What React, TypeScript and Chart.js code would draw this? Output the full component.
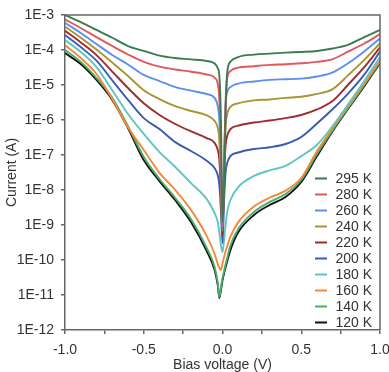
import React, { useEffect, useRef } from 'react';
import { Chart, registerables } from 'chart.js';

Chart.register(...registerables);

// Bias voltage (V) sample points
const voltages = [-1, -0.9, -0.8, -0.7, -0.6, -0.5, -0.4, -0.3, -0.2, -0.1, -0.05, -0.03, -0.02, -0.01, 0, 0.01, 0.02, 0.03, 0.05, 0.1, 0.2, 0.3, 0.4, 0.5, 0.6, 0.7, 0.8, 0.9, 1.0];

const temperatureLabels = ['295 K', '280 K', '260 K', '240 K', '220 K', '200 K', '180 K', '160 K', '140 K', '120 K'];
const seriesColors = ['#3d7a50', '#e0595b', '#5b8ff0', '#a99532', '#9e2b30', '#3a5cb0', '#5ec6c2', '#f4893a', '#4bab6b', '#111111'];

// Current (A)
const i295 = [1.0e-3, 6.3e-4, 3.75e-4, 2.24e-4, 1.3e-4, 9.4e-5, 6.9e-5, 5.9e-5, 5.4e-5, 4.86e-5, 4.1e-5, 3.0e-5, 1.79e-5, 1.0e-6, 1.19e-9, 1.0e-8, 1.95e-6, 2.3e-5, 4.6e-5, 6.3e-5, 7.4e-5, 7.9e-5, 8.4e-5, 8.8e-5, 9.4e-5, 1.1e-4, 1.43e-4, 2.34e-4, 3.75e-4];
const i280 = [7.5e-4, 4.25e-4, 2.34e-4, 1.3e-4, 7.45e-5, 4.6e-5, 3.35e-5, 2.77e-5, 2.4e-5, 2.0e-5, 1.63e-5, 1.06e-5, 3.75e-6, 1.39e-7, 1.0e-9, 3.75e-8, 3.75e-6, 1.58e-5, 2.5e-5, 3.13e-5, 3.44e-5, 3.75e-5, 3.9e-5, 4.17e-5, 4.58e-5, 5.5e-5, 9.1e-5, 1.53e-4, 2.84e-4];
const i260 = [6.0e-4, 3.05e-4, 1.48e-4, 7.2e-5, 3.85e-5, 1.94e-5, 1.3e-5, 8.7e-6, 6.9e-6, 5.53e-6, 4.3e-6, 2.48e-6, 9.9e-7, 5.2e-8, 8.2e-10, 7.2e-8, 2.7e-6, 6.3e-6, 8.7e-6, 1.1e-5, 1.26e-5, 1.4e-5, 1.46e-5, 1.52e-5, 1.75e-5, 2.3e-5, 4.26e-5, 9.1e-5, 2.14e-4];
const i240 = [4.65e-4, 2.24e-4, 1.03e-4, 4.37e-5, 1.81e-5, 7.1e-6, 3.97e-6, 2.48e-6, 1.81e-6, 1.35e-6, 9.4e-7, 5.9e-7, 2.66e-7, 1.93e-8, 6.7e-10, 7.2e-8, 7.2e-7, 1.48e-6, 2.38e-6, 3.0e-6, 3.65e-6, 3.87e-6, 4.29e-6, 4.6e-6, 5.55e-6, 7.65e-6, 1.94e-5, 5.2e-5, 1.56e-4];
const i220 = [3.55e-4, 1.65e-4, 7.15e-5, 2.42e-5, 8.2e-6, 3.0e-6, 1.39e-6, 7.7e-7, 4.74e-7, 3.05e-7, 2.2e-7, 1.39e-7, 7.2e-8, 7.2e-9, 5.2e-10, 2.63e-8, 1.93e-7, 3.54e-7, 5.5e-7, 6.9e-7, 8.45e-7, 9.65e-7, 1.13e-6, 1.39e-6, 2.0e-6, 3.55e-6, 1.05e-5, 3.24e-5, 1.19e-4];
const i200 = [2.68e-4, 1.21e-4, 4.94e-5, 1.36e-5, 3.76e-6, 1.13e-6, 5.5e-7, 2.33e-7, 1.3e-7, 6.8e-8, 4.2e-8, 2.63e-8, 1.38e-8, 2.7e-9, 3.0e-10, 5.1e-9, 3.3e-8, 5.9e-8, 9.3e-8, 1.18e-7, 1.48e-7, 1.67e-7, 2.06e-7, 3.27e-7, 7.9e-7, 2.06e-6, 5.9e-6, 1.98e-5, 9.0e-5];
const i180 = [1.93e-4, 8.8e-5, 3.24e-5, 7.1e-6, 1.48e-6, 4.0e-7, 1.21e-7, 4.55e-8, 1.58e-8, 5.5e-9, 2.2e-9, 1.21e-9, 6.2e-10, 2.67e-10, 1.68e-10, 3.75e-10, 1.0e-9, 2.36e-9, 5.1e-9, 1.21e-8, 2.52e-8, 3.65e-8, 4.9e-8, 9.3e-8, 1.97e-7, 6.8e-7, 2.9e-6, 1.3e-5, 6.3e-5];
const i160 = [1.39e-4, 5.9e-5, 2.06e-5, 3.97e-6, 6.25e-7, 1.39e-7, 3.1e-8, 1.0e-8, 2.7e-9, 4.8e-10, 1.48e-10, 7.6e-11, 5.9e-11, 5.2e-11, 8.0e-11, 1.21e-10, 1.8e-10, 2.5e-10, 4.6e-10, 1.21e-9, 3.4e-9, 6.1e-9, 9.6e-9, 2.2e-8, 1.3e-7, 5.9e-7, 2.59e-6, 1.1e-5, 5.0e-5];
const i140 = [1.0e-4, 4.58e-5, 1.58e-5, 4.29e-6, 6.7e-7, 8.8e-8, 2.06e-8, 5.9e-9, 1.48e-9, 2.2e-10, 6.3e-11, 2.19e-11, 8.7e-12, 1.58e-11, 3.05e-11, 4.8e-11, 7.6e-11, 1.14e-10, 2.55e-10, 7.7e-10, 2.36e-9, 4.56e-9, 7.7e-9, 1.93e-8, 1.07e-7, 5.2e-7, 2.27e-6, 1.0e-5, 4.58e-5];
const i120 = [8.15e-5, 3.96e-5, 1.39e-5, 3.76e-6, 5.9e-7, 7.2e-8, 1.8e-8, 5.1e-9, 1.21e-9, 1.8e-10, 5.2e-11, 1.92e-11, 8.2e-12, 1.38e-11, 2.62e-11, 4.2e-11, 6.3e-11, 9.3e-11, 1.92e-10, 6.2e-10, 1.93e-9, 3.75e-9, 6.3e-9, 1.69e-8, 9.3e-8, 4.85e-7, 2.16e-6, 9.3e-6, 4.27e-5];

const seriesCurrents = [i295, i280, i260, i240, i220, i200, i180, i160, i140, i120];

const yTickValues = [1e-12, 1e-11, 1e-10, 1e-9, 1e-8, 1e-7, 1e-6, 1e-5, 1e-4, 1e-3];
const yTickLabels = ['1E-12', '1E-11', '1E-10', '1E-9', '1E-8', '1E-7', '1E-6', '1E-5', '1E-4', '1E-3'];
const xTickValues = [-1, -0.5, 0, 0.5, 1];
const xTickLabels = ['-1.0', '-0.5', '0.0', '0.5', '1.0'];

const FONT = "'Liberation Sans', Arial, sans-serif";
const AXIS_COLOR = '#666666';
const TEXT_COLOR = '#333333';

const framePlugin = {
  id: 'frame',
  afterDatasetsDraw(chart: any) {
    const { ctx, chartArea } = chart;
    ctx.save();
    ctx.strokeStyle = AXIS_COLOR;
    ctx.lineWidth = 1.5;
    ctx.beginPath();
    ctx.moveTo(chartArea.left, chartArea.top);
    ctx.lineTo(chartArea.right, chartArea.top);
    ctx.lineTo(chartArea.right, chartArea.bottom);
    ctx.stroke();
    ctx.restore();
  },
};

const insideLegendPlugin = {
  id: 'insideLegend',
  afterDraw(chart: any) {
    const { ctx, chartArea } = chart;
    const ds = chart.data.datasets;
    const rowH = 16;
    const lastY = chartArea.bottom - 7.5;
    const startY = lastY - (ds.length - 1) * rowH;
    const lineX0 = chartArea.right - 65;
    const lineX1 = chartArea.right - 53;
    const textX = chartArea.right - 44.5;
    ctx.save();
    ctx.font = `14px ${FONT}`;
    ctx.textBaseline = 'middle';
    ctx.textAlign = 'left';
    ds.forEach((d: any, i: number) => {
      const y = startY + i * rowH;
      ctx.strokeStyle = d.borderColor;
      ctx.lineWidth = 2;
      ctx.beginPath();
      ctx.moveTo(lineX0, y);
      ctx.lineTo(lineX1, y);
      ctx.stroke();
      ctx.fillStyle = TEXT_COLOR;
      ctx.fillText(d.label, textX, y + 0.5);
    });
    ctx.restore();
  },
};

export default function App() {
  const canvasRef = useRef<HTMLCanvasElement | null>(null);

  useEffect(() => {
    if (!canvasRef.current) return;
    Chart.defaults.font.family = FONT;
    const datasets = seriesCurrents.map((cur, k) => ({
      label: temperatureLabels[k],
      data: cur.map((c, i) => ({ x: voltages[i], y: c })),
      borderColor: seriesColors[k],
      backgroundColor: seriesColors[k],
      borderWidth: 1.9,
      pointRadius: 0,
      cubicInterpolationMode: 'monotone' as const,
      fill: false,
    }));

    const chart = new Chart(canvasRef.current, {
      type: 'line',
      data: { datasets },
      options: {
        animation: false,
        responsive: false,
        maintainAspectRatio: false,
        layout: { padding: { top: 15, right: 9, left: 0, bottom: 0 } },
        plugins: { legend: { display: false }, tooltip: { enabled: false } },
        scales: {
          x: {
            type: 'linear',
            min: -1,
            max: 1,
            afterFit(scale: any) {
              scale.height = 42;
              scale.paddingLeft = 0;
              scale.paddingRight = 0;
            },
            ticks: {
              stepSize: 0.25,
              autoSkip: false,
              maxRotation: 0,
              padding: 8,
              color: TEXT_COLOR,
              font: { size: 14, family: FONT },
              callback: (v: any) => {
                const idx = xTickValues.findIndex((t) => Math.abs(t - Number(v)) < 1e-9);
                return idx >= 0 ? xTickLabels[idx] : '';
              },
            },
            grid: { drawOnChartArea: false, drawTicks: true, tickLength: 4, color: AXIS_COLOR, lineWidth: 1.5 },
            border: { display: true, color: AXIS_COLOR, width: 1.5 },
            title: { display: true, text: 'Bias voltage (V)', color: TEXT_COLOR, font: { size: 14, family: FONT }, padding: { top: 0, bottom: -2 } },
          },
          y: {
            type: 'logarithmic',
            min: 1e-12,
            max: 1e-3,
            afterBuildTicks(scale: any) {
              scale.ticks = yTickValues.map((v) => ({ value: v }));
            },
            afterFit(scale: any) {
              scale.width = 65;
              scale.paddingTop = 0;
              scale.paddingBottom = 0;
            },
            ticks: {
              autoSkip: false,
              padding: 7,
              color: TEXT_COLOR,
              font: { size: 14, family: FONT },
              callback: (v: any) => {
                const idx = yTickValues.findIndex((t) => Math.abs(Math.log10(t) - Math.log10(Number(v))) < 1e-6);
                return idx >= 0 ? yTickLabels[idx] : '';
              },
            },
            grid: { drawOnChartArea: false, drawTicks: true, tickLength: 4, color: AXIS_COLOR, lineWidth: 1.5 },
            border: { display: true, color: AXIS_COLOR, width: 1.5 },
            title: { display: true, text: 'Current (A)', color: TEXT_COLOR, font: { size: 14, family: FONT }, padding: { top: 4, bottom: 0 } },
          },
        },
      },
      plugins: [framePlugin, insideLegendPlugin],
    } as any);

    return () => chart.destroy();
  }, []);

  return (
    <div style={{ position: 'absolute', left: 0, top: 0, width: 389, height: 372 }}>
      <canvas ref={canvasRef} width={389} height={372} style={{ width: 389, height: 372 }} />
    </div>
  );
}
